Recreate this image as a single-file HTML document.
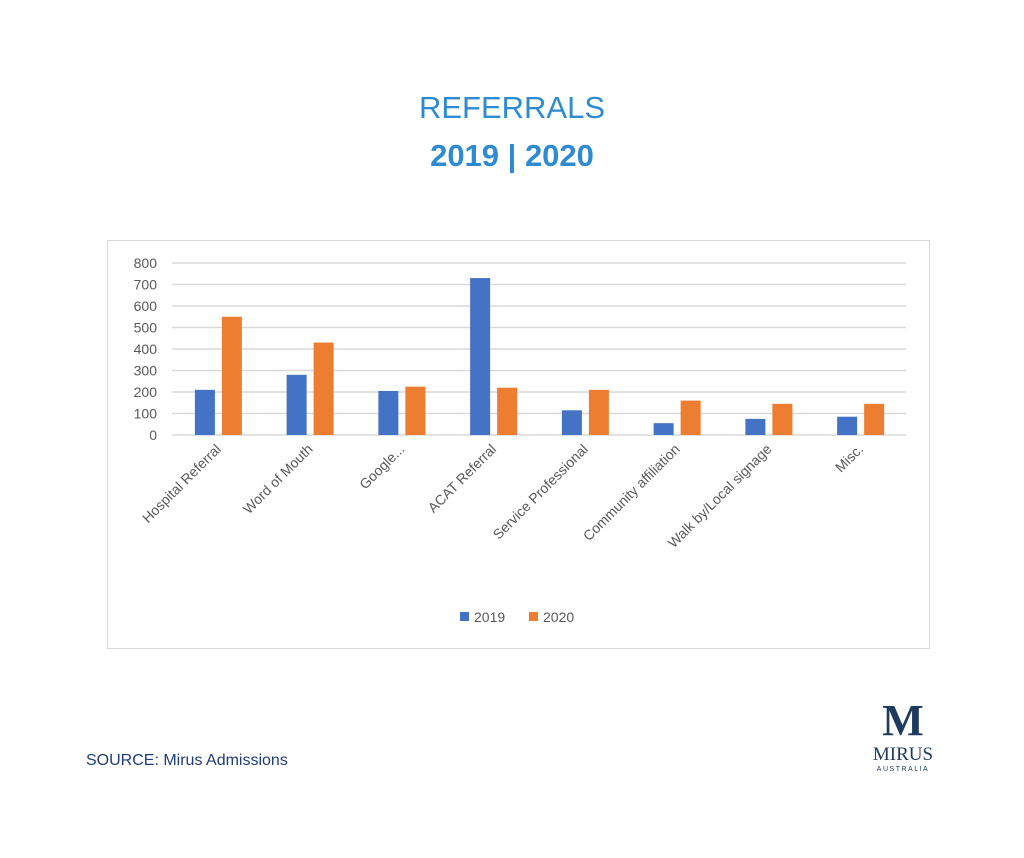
<!DOCTYPE html>
<html><head><meta charset="utf-8"><style>
body{margin:0;width:1024px;height:858px;background:#fff;font-family:"Liberation Sans",sans-serif;position:relative;overflow:hidden}
.t1{position:absolute;top:90px;width:100%;text-align:center;color:#2e8bd1;font-size:31px}
.t2{position:absolute;top:138px;width:100%;text-align:center;color:#2e8bd1;font-size:31px;font-weight:bold}
.src{position:absolute;left:86px;top:752px;color:#1f3d7a;font-size:16px}
</style></head><body>
<div class="t1">REFERRALS</div>
<div class="t2">2019 | 2020</div>
<svg width="1024" height="858" style="position:absolute;left:0;top:0">
<rect x="107.5" y="240.5" width="822" height="408" fill="none" stroke="#d9d9d9"/>
<g id="g"></g>
<g>
<rect x="460" y="612" width="9" height="9" fill="#4472c4"/>
<text x="474" y="622" font-size="14" fill="#595959">2019</text>
<rect x="529" y="612" width="9" height="9" fill="#ed7d31"/>
<text x="543" y="622" font-size="14" fill="#595959">2020</text>
</g>
<g fill="#1f3a5f">
<text x="903" y="735" text-anchor="middle" font-family="Liberation Serif" font-size="44" font-weight="bold">M</text>
<text x="903" y="760" text-anchor="middle" font-family="Liberation Serif" font-size="19">MIRUS</text>
<text x="903" y="771" text-anchor="middle" font-size="7" letter-spacing="1.5">AUSTRALIA</text>
</g>
</svg>
<div class="src">SOURCE: Mirus Admissions</div>
<script>
const categories=["Hospital Referral","Word of Mouth","Google...","ACAT Referral","Service Professional","Community affiliation","Walk by/Local signage","Misc."];
const s2019=[210,280,205,730,115,55,75,85];
const s2020=[550,430,225,220,210,160,145,145];
const ticks=[0,100,200,300,400,500,600,700,800];
const x0=172,x1=906,y0=435,y800=263;
const y=v=>y0-(y0-y800)*v/800;
const bw=(x1-x0)/categories.length;
const g=document.getElementById('g');
const ns='http://www.w3.org/2000/svg';
function mk(t,a){const e=document.createElementNS(ns,t);for(const k in a)e.setAttribute(k,a[k]);g.appendChild(e);return e;}
ticks.forEach(t=>{
 const l=mk('line',{x1:x0,x2:x1,y1:y(t),y2:y(t),stroke:'#d9d9d9','stroke-width':1.5});
 
 
 const tx=mk('text',{x:157,y:y(t)+5,'text-anchor':'end','font-size':14,fill:'#595959'});
 tx.textContent=t;
 
 
});
categories.forEach((c,i)=>{
 const cx=x0+bw*(i+0.5);
 const b1=mk('rect',{x:cx-23,y:y(s2019[i]),width:20,height:y0-y(s2019[i]),fill:'#4472c4'});
 
 
 const b2=mk('rect',{x:cx+4,y:y(s2020[i]),width:20,height:y0-y(s2020[i]),fill:'#ed7d31'});
 
 
 const tx=mk('text',{x:cx+4,y:450,'text-anchor':'end','font-size':14,fill:'#595959',transform:`rotate(-45 ${cx+4} 450)`});
 tx.textContent=c;
 
 
});
</script>
</body></html>
